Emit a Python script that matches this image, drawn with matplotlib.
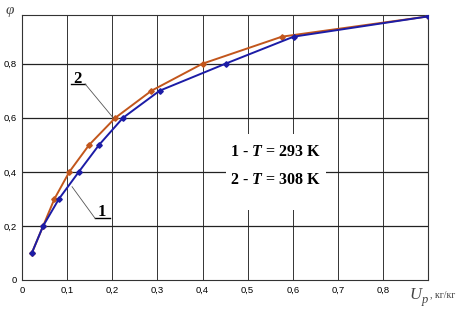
"""Phi vs U_p for two temperatures, Excel-style figure rebuilt in matplotlib."""

import matplotlib

matplotlib.use("Agg")
import matplotlib.pyplot as plt
import matplotlib.patches as mpatches

DPI = 100
plt.rcParams["mathtext.fontset"] = "custom"
plt.rcParams["mathtext.it"] = "Liberation Serif:italic:bold"
plt.rcParams["mathtext.rm"] = "Liberation Serif:bold"

# curve 1, T = 293 K
u1 = [0.022, 0.047, 0.082, 0.126, 0.171, 0.224, 0.305, 0.451, 0.602, 0.9]
phi1 = [0.1, 0.2, 0.3, 0.4, 0.5, 0.6, 0.7, 0.8, 0.9, 0.975]
# curve 2, T = 308 K
u2 = [0.022, 0.047, 0.072, 0.105, 0.149, 0.207, 0.287, 0.4, 0.576, 0.9]
phi2 = [0.1, 0.2, 0.3, 0.4, 0.5, 0.6, 0.7, 0.8, 0.9, 0.975]

xticks = [0, 0.1, 0.2, 0.3, 0.4, 0.5, 0.6, 0.7, 0.8]
xtick_labels = ["0", "0,1", "0,2", "0,3", "0,4", "0,5", "0,6", "0,7", "0,8"]
yticks = [0, 0.2, 0.4, 0.6, 0.8]
ytick_labels = ["0", "0,2", "0,4", "0,6", "0,8"]

BLUE = "#1c1ca6"
ORANGE = "#c2561c"

fig = plt.figure(figsize=(4.57, 3.11), dpi=DPI)
ax = fig.add_axes([0.048, 0.0997, 0.889, 0.852])

for x in xticks[1:]:
    ax.axvline(x, color="#333333", lw=0.7, zorder=1)
for y in yticks[1:]:
    ax.axhline(y, color="#222222", lw=0.9, zorder=1)

# white box behind the legend text
ax.add_patch(mpatches.Rectangle((0.452, 0.26), 0.222, 0.28, facecolor="white",
                                edgecolor="none", zorder=2))

ax.plot(u1, phi1, color=BLUE, lw=1.4, marker="D", ms=2.8, zorder=4)
ax.plot(u2, phi2, color=ORANGE, lw=1.4, marker="D", ms=2.8, zorder=3)

ax.set_xlim(0, 0.9)
ax.set_ylim(0, 0.98)
ax.set_xticks(xticks)
ax.set_xticklabels(xtick_labels)
ax.set_yticks(yticks)
ax.set_yticklabels(ytick_labels)
ax.tick_params(length=0, labelsize=6.8, pad=4)
for lab in ax.get_xticklabels() + ax.get_yticklabels():
    lab.set_family("Liberation Sans")
for sp in ax.spines.values():
    sp.set_color("#333333")
    sp.set_linewidth(0.8)

serif = "Liberation Serif"
ax.text(0.562, 0.475, r"1 - $T$ = 293 K", ha="center", va="center",
        fontsize=11.5, fontweight="bold", family=serif, zorder=5)
ax.text(0.562, 0.37, r"2 - $T$ = 308 K", ha="center", va="center",
        fontsize=11.5, fontweight="bold", family=serif, zorder=5)

# curve labels with leader lines
ax.text(0.123, 0.745, "2", ha="center", va="center", fontsize=12,
        fontweight="bold", family=serif, zorder=5)
ax.plot([0.108, 0.14], [0.725, 0.725], color="black", lw=1.0, zorder=5)
ax.plot([0.14, 0.203], [0.725, 0.598], color="#555555", lw=0.6, zorder=5)
ax.text(0.178, 0.25, "1", ha="center", va="center", fontsize=12,
        fontweight="bold", family=serif, zorder=5)
ax.plot([0.162, 0.196], [0.228, 0.228], color="black", lw=1.0, zorder=5)
ax.plot([0.162, 0.111], [0.228, 0.345], color="#555555", lw=0.6, zorder=5)

fig.text(0.012, 0.955, "φ", fontsize=11, color="#444444", family=serif,
         style="italic")
fig.text(0.895, 0.04, "U", fontsize=12, color="#444444", family=serif,
         style="italic")
fig.text(0.923, 0.025, "p", fontsize=9, color="#444444", family=serif,
         style="italic")
fig.text(0.94, 0.045, ", кг/кг", fontsize=7, color="#444444", family=serif)

fig.savefig("out.png", dpi=DPI)
